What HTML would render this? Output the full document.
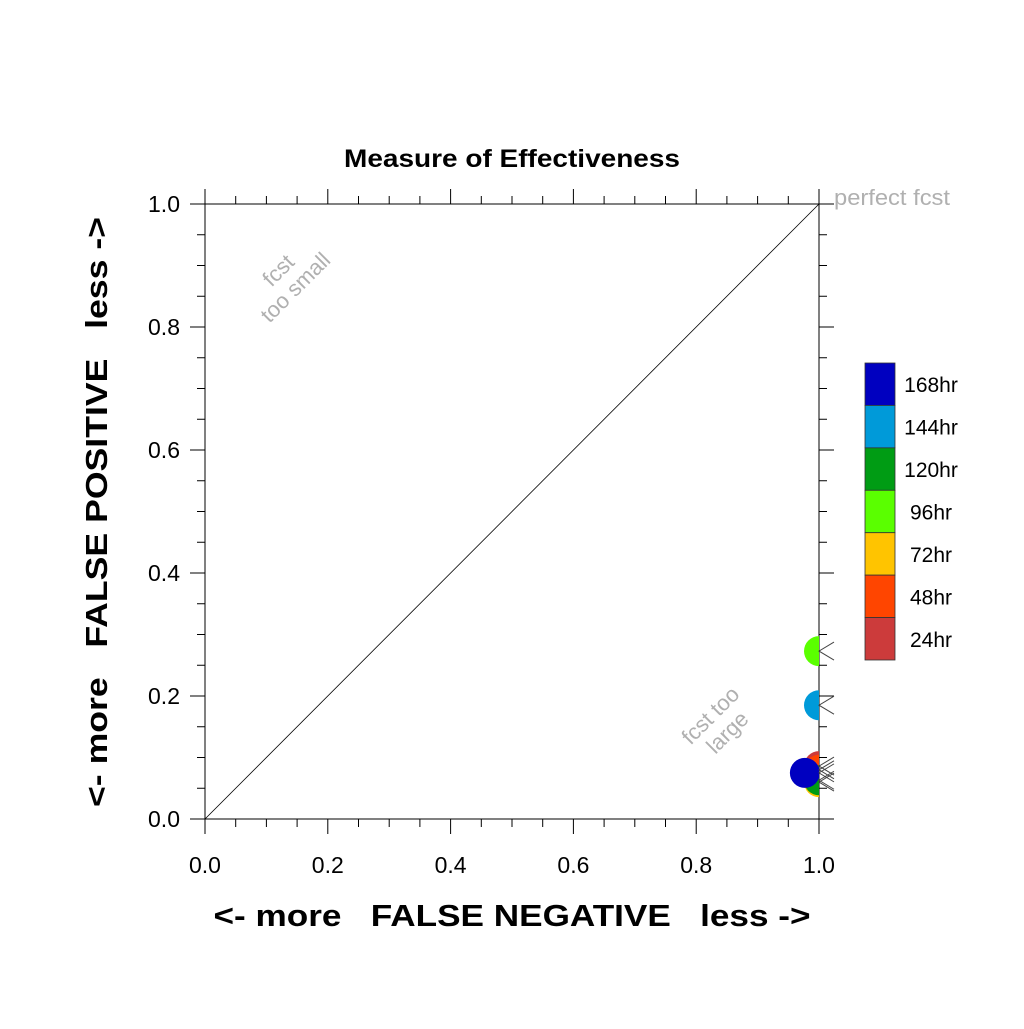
<!DOCTYPE html>
<html><head><meta charset="utf-8"><style>
body{margin:0;background:#fff;font-family:"Liberation Sans",sans-serif}
</style></head><body>
<svg id="chart" width="1024" height="1024" xmlns="http://www.w3.org/2000/svg" font-family="Liberation Sans, sans-serif">
<defs><clipPath id="pc"><rect x="205" y="204" width="614" height="615"/></clipPath></defs>
<text x="512" y="167" text-anchor="middle" font-size="25" font-weight="bold" textLength="336" lengthAdjust="spacingAndGlyphs">Measure of Effectiveness</text>
<g id="axes"></g>
<line x1="205" y1="819" x2="819" y2="204" stroke="#000" stroke-width="0.8"/>
<text x="834" y="205" font-size="22" fill="#b0b0b0" textLength="116" lengthAdjust="spacingAndGlyphs">perfect fcst</text>
<g transform="translate(290,282) rotate(-45)" fill="#b0b0b0" font-size="22" text-anchor="middle"><text y="-9">fcst</text><text y="15">too small</text></g>
<g transform="translate(722,727) rotate(-45)" fill="#b0b0b0" font-size="22" text-anchor="middle"><text y="-9">fcst too</text><text y="15">large</text></g>
<g id="points" clip-path="url(#pc)"></g>
<g id="marks"></g>
<text x="512" y="926" text-anchor="middle" font-size="31" font-weight="bold" xml:space="preserve" textLength="597" lengthAdjust="spacingAndGlyphs">&lt;- more   FALSE NEGATIVE   less -&gt;</text>
<text transform="translate(107,512) rotate(-90)" text-anchor="middle" font-size="31" font-weight="bold" xml:space="preserve" textLength="590" lengthAdjust="spacingAndGlyphs">&lt;- more   FALSE POSITIVE   less -&gt;</text>
<g id="legend"></g>
</svg>
<script>
const labels=["24hr","48hr","72hr","96hr","120hr","144hr","168hr"];
const colors=["#cc3b3b","#ff4500","#ffc400","#5aff00","#009c14","#009ad9","#0000c0"];
const xVals=[1.0,1.0,1.0,1.0,1.0,1.0,0.977];
const yVals=[0.086,0.08,0.06,0.273,0.063,0.185,0.075];
const tickVals=[0,0.2,0.4,0.6,0.8,1.0];
const tickLabels=["0.0","0.2","0.4","0.6","0.8","1.0"];
const NS="http://www.w3.org/2000/svg";
const X=v=>205+v*614, Y=v=>819-v*615;
function mk(t,a,p){const e=document.createElementNS(NS,t);for(const k in a)e.setAttribute(k,a[k]);p.appendChild(e);return e;}
const ax=document.getElementById('axes');
const fr=mk('rect',{x:205,y:204,width:614,height:615,fill:'none',stroke:'#000','stroke-width':1},ax);


for(let i=0;i<=20;i++){const v=i/20;const major=i%4===0;const L=major?15:8;
 const xp=X(v),yp=Y(v);
 mk('line',{x1:xp,y1:819,x2:xp,y2:819+L,stroke:'#000'},ax);
 mk('line',{x1:xp,y1:204,x2:xp,y2:204-L,stroke:'#000'},ax);
 mk('line',{x1:205,y1:yp,x2:205-L,y2:yp,stroke:'#000'},ax);
 mk('line',{x1:819,y1:yp,x2:819+L,y2:yp,stroke:'#000'},ax);}
tickVals.forEach((v,i)=>{
 const tx=mk('text',{x:X(v),y:873,'text-anchor':'middle','font-size':23},ax);tx.textContent=tickLabels[i];
 
 
 const ty=mk('text',{x:180,y:Y(v)+8,'text-anchor':'end','font-size':23},ax);ty.textContent=tickLabels[i];
 
 
});
const pg=document.getElementById('points'),mg=document.getElementById('marks');
labels.forEach((l,i)=>{
 const c=mk('circle',{cx:X(xVals[i]),cy:Y(yVals[i]),r:15,fill:colors[i]},pg);
 
 
 const yp=Y(yVals[i]);
 const m=mk('polyline',{points:`${X(1)+15},${yp-9} ${X(1)},${yp} ${X(1)+15},${yp+9}`,fill:'none',stroke:'#444','stroke-width':1},mg);
 
 
});
const lg=document.getElementById('legend');
const n=labels.length,h=(660-363)/n;
for(let k=0;k<n;k++){const i=n-1-k;const y=363+k*h;
 const r=mk('rect',{x:865,y:y,width:30,height:h,fill:colors[i],stroke:'#333','stroke-width':0.8},lg);
 
 
 const t=mk('text',{x:931,y:y+h/2+8,'text-anchor':'middle','font-size':21},lg);t.textContent=labels[i];
 
 
}
</script>
</body></html>
